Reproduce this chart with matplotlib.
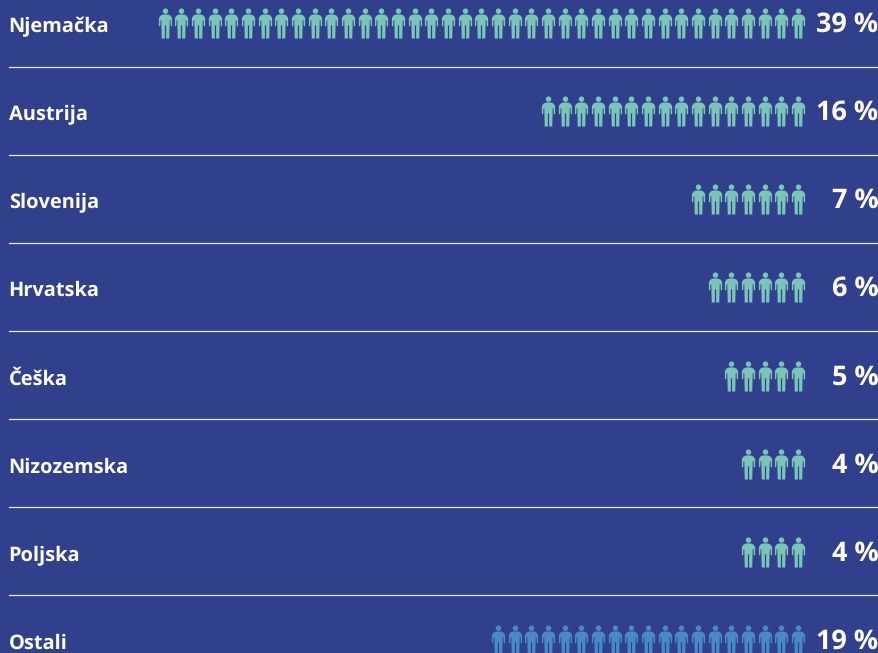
import numpy as np
import matplotlib.pyplot as plt
from matplotlib.path import Path

countries = ["Njemačka", "Austrija", "Slovenija", "Hrvatska", "Češka", "Nizozemska", "Poljska", "Ostali"]
values = [39, 16, 7, 6, 5, 4, 4, 19]
colors = ["#7AC5B8"] * 7 + ["#4A89C8"]

bg = "#30408D"
row_y = [23, 111, 199, 287, 376, 464, 552, 640]
base_y = [32, 120, 208, 296, 385, 473, 561, 649]
line_y = [67, 155, 243, 331, 419, 507, 595]

plt.rcParams["text.hinting"] = "no_hinting"
plt.rcParams["text.hinting_factor"] = 1


def person():
	# little man icon, head + body
	head = Path.circle((0, 0.82), 0.18)
	body = Path([
		(-0.18, 0.6), (0.18, 0.6), (0.34, 0.52), (0.44, 0.36), (0.44, -0.18), (0.35, -0.18),
		(0.33, 0.22), (0.28, 0.22), (0.25, -1), (0.04, -1), (0.04, -0.12), (-0.04, -0.12),
		(-0.04, -1), (-0.25, -1), (-0.28, 0.22), (-0.33, 0.22), (-0.35, -0.18), (-0.44, -0.18),
		(-0.44, 0.36), (-0.34, 0.52), (-0.18, 0.6),
	], closed=True)
	return Path.make_compound_path(head, body)


fig = plt.figure(figsize=(8.79, 6.53), dpi=100, facecolor=bg)
ax = fig.add_axes([0, 0, 1, 1])
ax.set_xlim(0, 879)
ax.set_ylim(653, 0)
ax.axis("off")

marker = person()
pitch = 16.67
for name, val, col, y, b in zip(countries, values, colors, row_y, base_y):
	xs = 798 - pitch * np.arange(val)
	ax.scatter(xs, [y] * val, marker=marker, s=470, color=col, linewidths=0)
	ax.text(8.6, b, name, color="white", fontsize=14.7, family="Open Sans", weight="bold", va="baseline", ha="left")
	ax.text(878.5, b, "%d %%" % val, color="white", fontsize=19.4, family="Open Sans", weight="bold", va="baseline", ha="right")

for y in line_y:
	ax.plot([9, 879], [y, y], color="white", lw=0.9, alpha=0.9)

fig.savefig("out.png", dpi=100, facecolor=bg)
